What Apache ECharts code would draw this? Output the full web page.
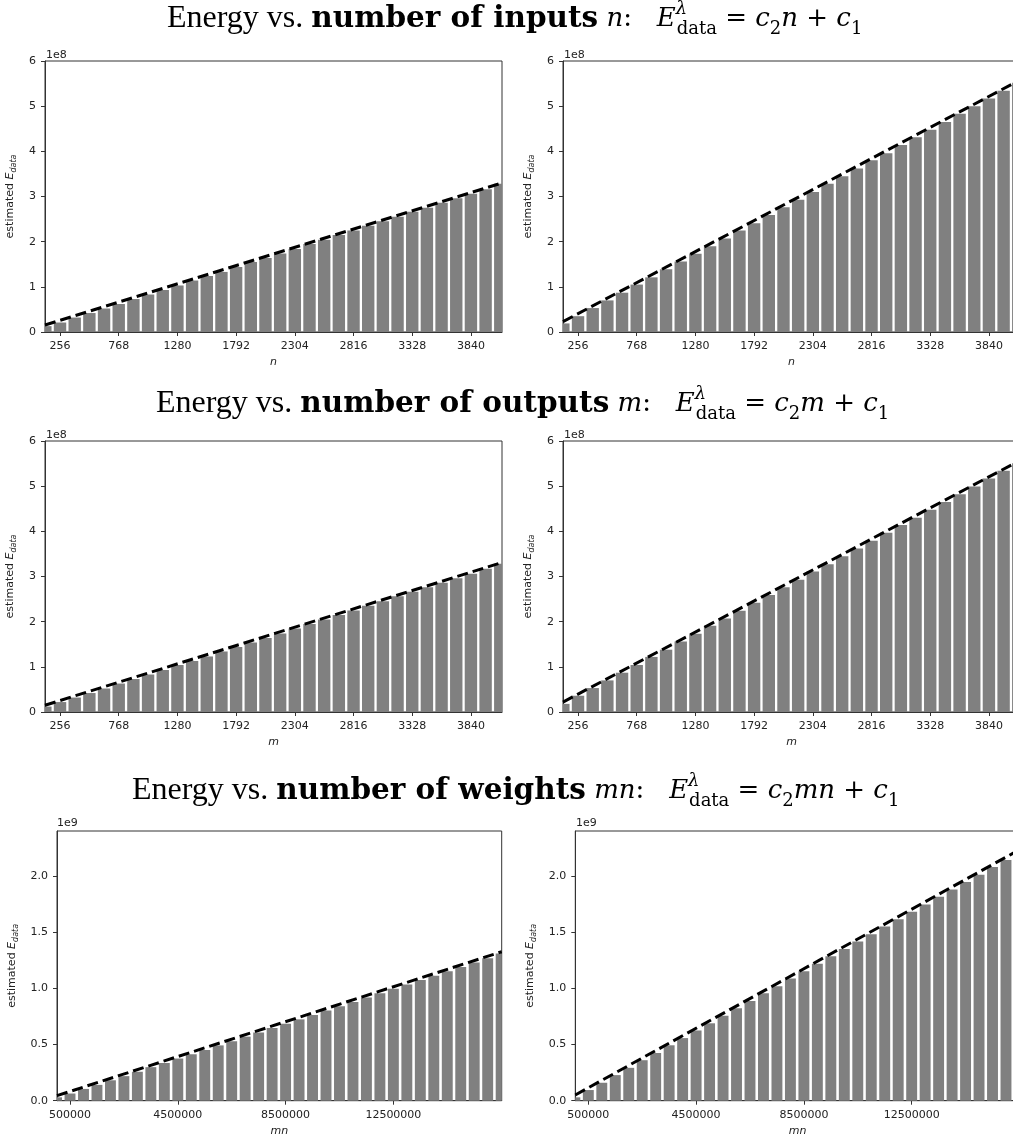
<!DOCTYPE html>
<html>
<head>
<meta charset="utf-8">
<title>Energy vs. inputs / outputs / weights</title>
<script src="https://cdn.jsdelivr.net/npm/echarts@6/dist/echarts.min.js"></script>
<style>
  html, body { margin: 0; padding: 0; background: #fff; }
  #main { width: 1013px; height: 1140px; }
</style>
</head>
<body>
<div id="main"></div>
<script>
// x positions (number of inputs n / outputs m)
const nValues = [128, 256, 384, 512, 640, 768, 896, 1024, 1152, 1280, 1408, 1536, 1664, 1792, 1920, 2048,
  2176, 2304, 2432, 2560, 2688, 2816, 2944, 3072, 3200, 3328, 3456, 3584, 3712, 3840, 3968, 4096];
// x positions for number of weights mn
const mnValues = [0, 500000, 1000000, 1500000, 2000000, 2500000, 3000000, 3500000, 4000000, 4500000,
  5000000, 5500000, 6000000, 6500000, 7000000, 7500000, 8000000, 8500000, 9000000, 9500000,
  10000000, 10500000, 11000000, 11500000, 12000000, 12500000, 13000000, 13500000, 14000000, 14500000,
  15000000, 15500000, 16000000, 16500000];

// tick labels
const nTicks = [256, 768, 1280, 1792, 2304, 2816, 3328, 3840];
const mnTicks = [500000, 4500000, 8500000, 12500000];
const weightYTicks = [0, 0.5, 1.0, 1.5, 2.0];

// estimated E_data, rows 1-2 in units of 1e8, row 3 in units of 1e9
const inputsLeft = [0.13, 0.21, 0.32, 0.42, 0.52, 0.62, 0.73, 0.83, 0.93, 1.03, 1.14, 1.24, 1.33, 1.44, 1.55, 1.64,
  1.74, 1.84, 1.95, 2.04, 2.15, 2.25, 2.35, 2.45, 2.55, 2.66, 2.75, 2.86, 2.96, 3.06, 3.16, 3.28];
const inputsRight = [0.19, 0.35, 0.53, 0.70, 0.87, 1.05, 1.21, 1.39, 1.56, 1.73, 1.90, 2.07, 2.25, 2.41, 2.59, 2.76,
  2.93, 3.10, 3.28, 3.45, 3.62, 3.80, 3.96, 4.14, 4.31, 4.48, 4.65, 4.83, 5.00, 5.17, 5.34, 5.52];
const outputsLeft = [0.12, 0.22, 0.32, 0.42, 0.52, 0.63, 0.73, 0.83, 0.93, 1.04, 1.13, 1.23, 1.34, 1.44, 1.54, 1.64,
  1.74, 1.85, 1.95, 2.05, 2.15, 2.25, 2.35, 2.45, 2.56, 2.66, 2.76, 2.86, 2.96, 3.06, 3.17, 3.28];
const outputsRight = [0.18, 0.36, 0.53, 0.70, 0.87, 1.04, 1.22, 1.38, 1.56, 1.73, 1.91, 2.07, 2.24, 2.42, 2.59, 2.76,
  2.93, 3.11, 3.27, 3.45, 3.62, 3.79, 3.97, 4.14, 4.30, 4.48, 4.65, 4.82, 4.99, 5.17, 5.34, 5.51];
const weightsLeft = [0.030, 0.064, 0.105, 0.141, 0.182, 0.219, 0.258, 0.299, 0.336, 0.376, 0.414, 0.452,
  0.493, 0.530, 0.571, 0.608, 0.648, 0.686, 0.725, 0.764, 0.803, 0.842, 0.880, 0.920, 0.958, 0.997,
  1.036, 1.075, 1.114, 1.153, 1.192, 1.231, 1.270, 1.312];
const weightsRight = [0.030, 0.095, 0.160, 0.228, 0.293, 0.361, 0.425, 0.494, 0.558, 0.626, 0.690, 0.758,
  0.823, 0.889, 0.957, 1.021, 1.090, 1.153, 1.220, 1.288, 1.352, 1.420, 1.484, 1.552, 1.617, 1.685,
  1.749, 1.817, 1.882, 1.950, 2.014, 2.082, 2.146, 2.214];

// fitted line c2*x + c1, endpoints read at the axis limits
const inputsFitLeft = [[125, 0.155], [4111, 3.30]];
const inputsFitRight = [[125, 0.23], [4111, 5.58]];
const outputsFitLeft = [[125, 0.15], [4111, 3.31]];
const outputsFitRight = [[125, 0.22], [4111, 5.57]];
const weightsFitLeft = [[17000, 0.045], [16520000, 1.328]];
const weightsFitRight = [[17000, 0.051], [16520000, 2.24]];

const chart = echarts.init(document.getElementById('main'));

const grids = [], xAxes = [], yAxes = [], series = [];
const TXT = '#222', LINE = '#333';
const SANS = 'DejaVu Sans';

// bars drawn through the axes and clipped to the plot box (matplotlib style)
function barRenderer(step, frac) {
  return function (params, api) {
    const x = api.value(0), y = api.value(1);
    const base = api.coord([x, 0]);
    const top = api.coord([x, y]);
    const w = (api.coord([x + step, 0])[0] - base[0]) * frac;
    const cs = params.coordSys;
    const shape = echarts.graphic.clipRectByRect(
      { x: base[0] - w / 2, y: top[1], width: w, height: base[1] - top[1] },
      { x: cs.x, y: cs.y, width: cs.width, height: cs.height });
    return shape && { type: 'rect', shape: shape, style: { fill: '#808080' } };
  };
}

function addPanel(p) {
  const i = grids.length;
  grids.push({ left: p.left, top: p.top, width: p.width, height: p.height,
    show: true, borderColor: LINE, borderWidth: 1, outerBoundsMode: 'none' });
  xAxes.push({
    type: 'value', gridIndex: i, min: p.xMin, max: p.xMax,
    name: p.xName, nameLocation: 'middle', nameGap: 25,
    nameTextStyle: { fontStyle: 'italic', fontSize: 11, color: TXT, fontFamily: SANS },
    axisLine: { show: true, lineStyle: { color: LINE, width: 1 } },
    axisTick: { show: true, length: 4, customValues: p.xTicks, lineStyle: { color: LINE } },
    axisLabel: { customValues: p.xTicks, margin: 9, fontSize: 11, color: TXT, fontFamily: SANS,
      formatter: v => String(v) },
    splitLine: { show: false }
  });
  const yAxis = {
    type: 'value', gridIndex: i, min: 0, max: p.yMax,
    name: '{n|estimated }{e|E}{s|data}', nameLocation: 'middle', nameGap: p.yNameGap, nameRotate: 90,
    nameTextStyle: {
      color: TXT, fontFamily: SANS, fontSize: 11,
      rich: {
        n: { fontSize: 11, fontFamily: SANS, color: TXT, lineHeight: 16, verticalAlign: 'middle' },
        e: { fontSize: 11, fontFamily: SANS, color: TXT, fontStyle: 'italic', lineHeight: 16, verticalAlign: 'middle' },
        s: { fontSize: 8, fontFamily: SANS, color: TXT, fontStyle: 'italic', lineHeight: 9, verticalAlign: 'bottom' }
      }
    },
    axisLine: { show: true, lineStyle: { color: LINE, width: 1 } },
    axisTick: { show: true, length: 4, lineStyle: { color: LINE } },
    axisLabel: { margin: 9, fontSize: 11, color: TXT, fontFamily: SANS, formatter: p.yFmt },
    splitLine: { show: false }
  };
  if (p.yTicks) {
    yAxis.axisTick.customValues = p.yTicks;
    yAxis.axisLabel.customValues = p.yTicks;
  } else {
    yAxis.interval = 1;
  }
  yAxes.push(yAxis);
  series.push({
    type: 'custom', xAxisIndex: i, yAxisIndex: i, silent: true,
    renderItem: barRenderer(p.xs[1] - p.xs[0], p.barFrac),
    encode: { x: 0, y: 1 },
    data: p.xs.map((x, k) => [x, p.ys[k]])
  });
  series.push({
    type: 'line', xAxisIndex: i, yAxisIndex: i, clip: true, symbol: 'none', z: 5, silent: true,
    lineStyle: { color: '#000', width: 3, type: [11, 5] },
    data: p.fit
  });
}

const intFmt = v => String(v);
const oneDec = v => v.toFixed(1);

// row 1: inputs
addPanel({ left: 45, top: 61, width: 457, height: 271, xMin: 125, xMax: 4111, xTicks: nTicks, xName: 'n',
  yMax: 6, yFmt: intFmt, yNameGap: 27, barFrac: 0.845, xs: nValues, ys: inputsLeft, fit: inputsFitLeft });
addPanel({ left: 563, top: 61, width: 457, height: 271, xMin: 125, xMax: 4111, xTicks: nTicks, xName: 'n',
  yMax: 6, yFmt: intFmt, yNameGap: 27, barFrac: 0.845, xs: nValues, ys: inputsRight, fit: inputsFitRight });
// row 2: outputs
addPanel({ left: 45, top: 441, width: 457, height: 271, xMin: 125, xMax: 4111, xTicks: nTicks, xName: 'm',
  yMax: 6, yFmt: intFmt, yNameGap: 27, barFrac: 0.845, xs: nValues, ys: outputsLeft, fit: outputsFitLeft });
addPanel({ left: 563, top: 441, width: 457, height: 271, xMin: 125, xMax: 4111, xTicks: nTicks, xName: 'm',
  yMax: 6, yFmt: intFmt, yNameGap: 27, barFrac: 0.845, xs: nValues, ys: outputsRight, fit: outputsFitRight });
// row 3: weights
addPanel({ left: 57, top: 831, width: 444.7, height: 269.7, xMin: 17000, xMax: 16520000, xTicks: mnTicks, xName: 'mn',
  yMax: 2.404, yTicks: weightYTicks, yFmt: oneDec, yNameGap: 37, barFrac: 0.81, xs: mnValues, ys: weightsLeft, fit: weightsFitLeft });
addPanel({ left: 575.3, top: 831, width: 444.7, height: 269.7, xMin: 17000, xMax: 16520000, xTicks: mnTicks, xName: 'mn',
  yMax: 2.404, yTicks: weightYTicks, yFmt: oneDec, yNameGap: 37, barFrac: 0.81, xs: mnValues, ys: weightsRight, fit: weightsFitRight });

// title: roman text, wide bold, math in DejaVu Serif
const SERIF = 'Liberation Serif', MATH = 'DejaVu Serif';
const LH = 38;
const titleRich = {
  r: { fontFamily: SERIF, fontSize: 32, color: '#000', fontWeight: 'normal', lineHeight: LH, verticalAlign: 'middle' },
  b: { fontFamily: MATH, fontSize: 29.5, color: '#000', fontWeight: 'bold', lineHeight: LH, verticalAlign: 'middle' },
  mi: { fontFamily: MATH, fontSize: 26, color: '#000', fontWeight: 'normal', fontStyle: 'italic', lineHeight: LH, verticalAlign: 'middle' },
  mr: { fontFamily: MATH, fontSize: 26, color: '#000', fontWeight: 'normal', lineHeight: LH, verticalAlign: 'middle' },
  sup: { fontFamily: MATH, fontSize: 18, color: '#000', fontWeight: 'normal', fontStyle: 'italic', lineHeight: 23, verticalAlign: 'top', width: 1 },
  sub: { fontFamily: MATH, fontSize: 18, color: '#000', fontWeight: 'normal', lineHeight: 17, verticalAlign: 'bottom' }
};
function makeTitle(left, top, what, v) {
  return {
    left: left, top: top, padding: 0,
    text: '{r|Energy vs. }{b|number of ' + what + '}{mr| }{mi|' + v + '}{mr|:   }{mi|E}{sup|λ}{sub|data}' +
      '{mr| = }{mi|c}{sub|2}{mi|' + v + '}{mr| + }{mi|c}{sub|1}',
    textStyle: { fontWeight: 'normal', fontFamily: SERIF, rich: titleRich }
  };
}

const scaleText = (left, top, s) => ({ type: 'text', left: left, top: top,
  style: { text: s, font: '11px "DejaVu Sans"', fill: TXT } });

chart.setOption({
  animation: false,
  backgroundColor: '#fff',
  title: [
    makeTitle(167, 0, 'inputs', 'n'),
    makeTitle(156, 385, 'outputs', 'm'),
    makeTitle(132, 772, 'weights', 'mn')
  ],
  grid: grids,
  xAxis: xAxes,
  yAxis: yAxes,
  series: series,
  graphic: [
    scaleText(46, 50, '1e8'), scaleText(564, 50, '1e8'),
    scaleText(46, 430, '1e8'), scaleText(564, 430, '1e8'),
    scaleText(57, 818, '1e9'), scaleText(576, 818, '1e9')
  ]
});
</script>
</body>
</html>
